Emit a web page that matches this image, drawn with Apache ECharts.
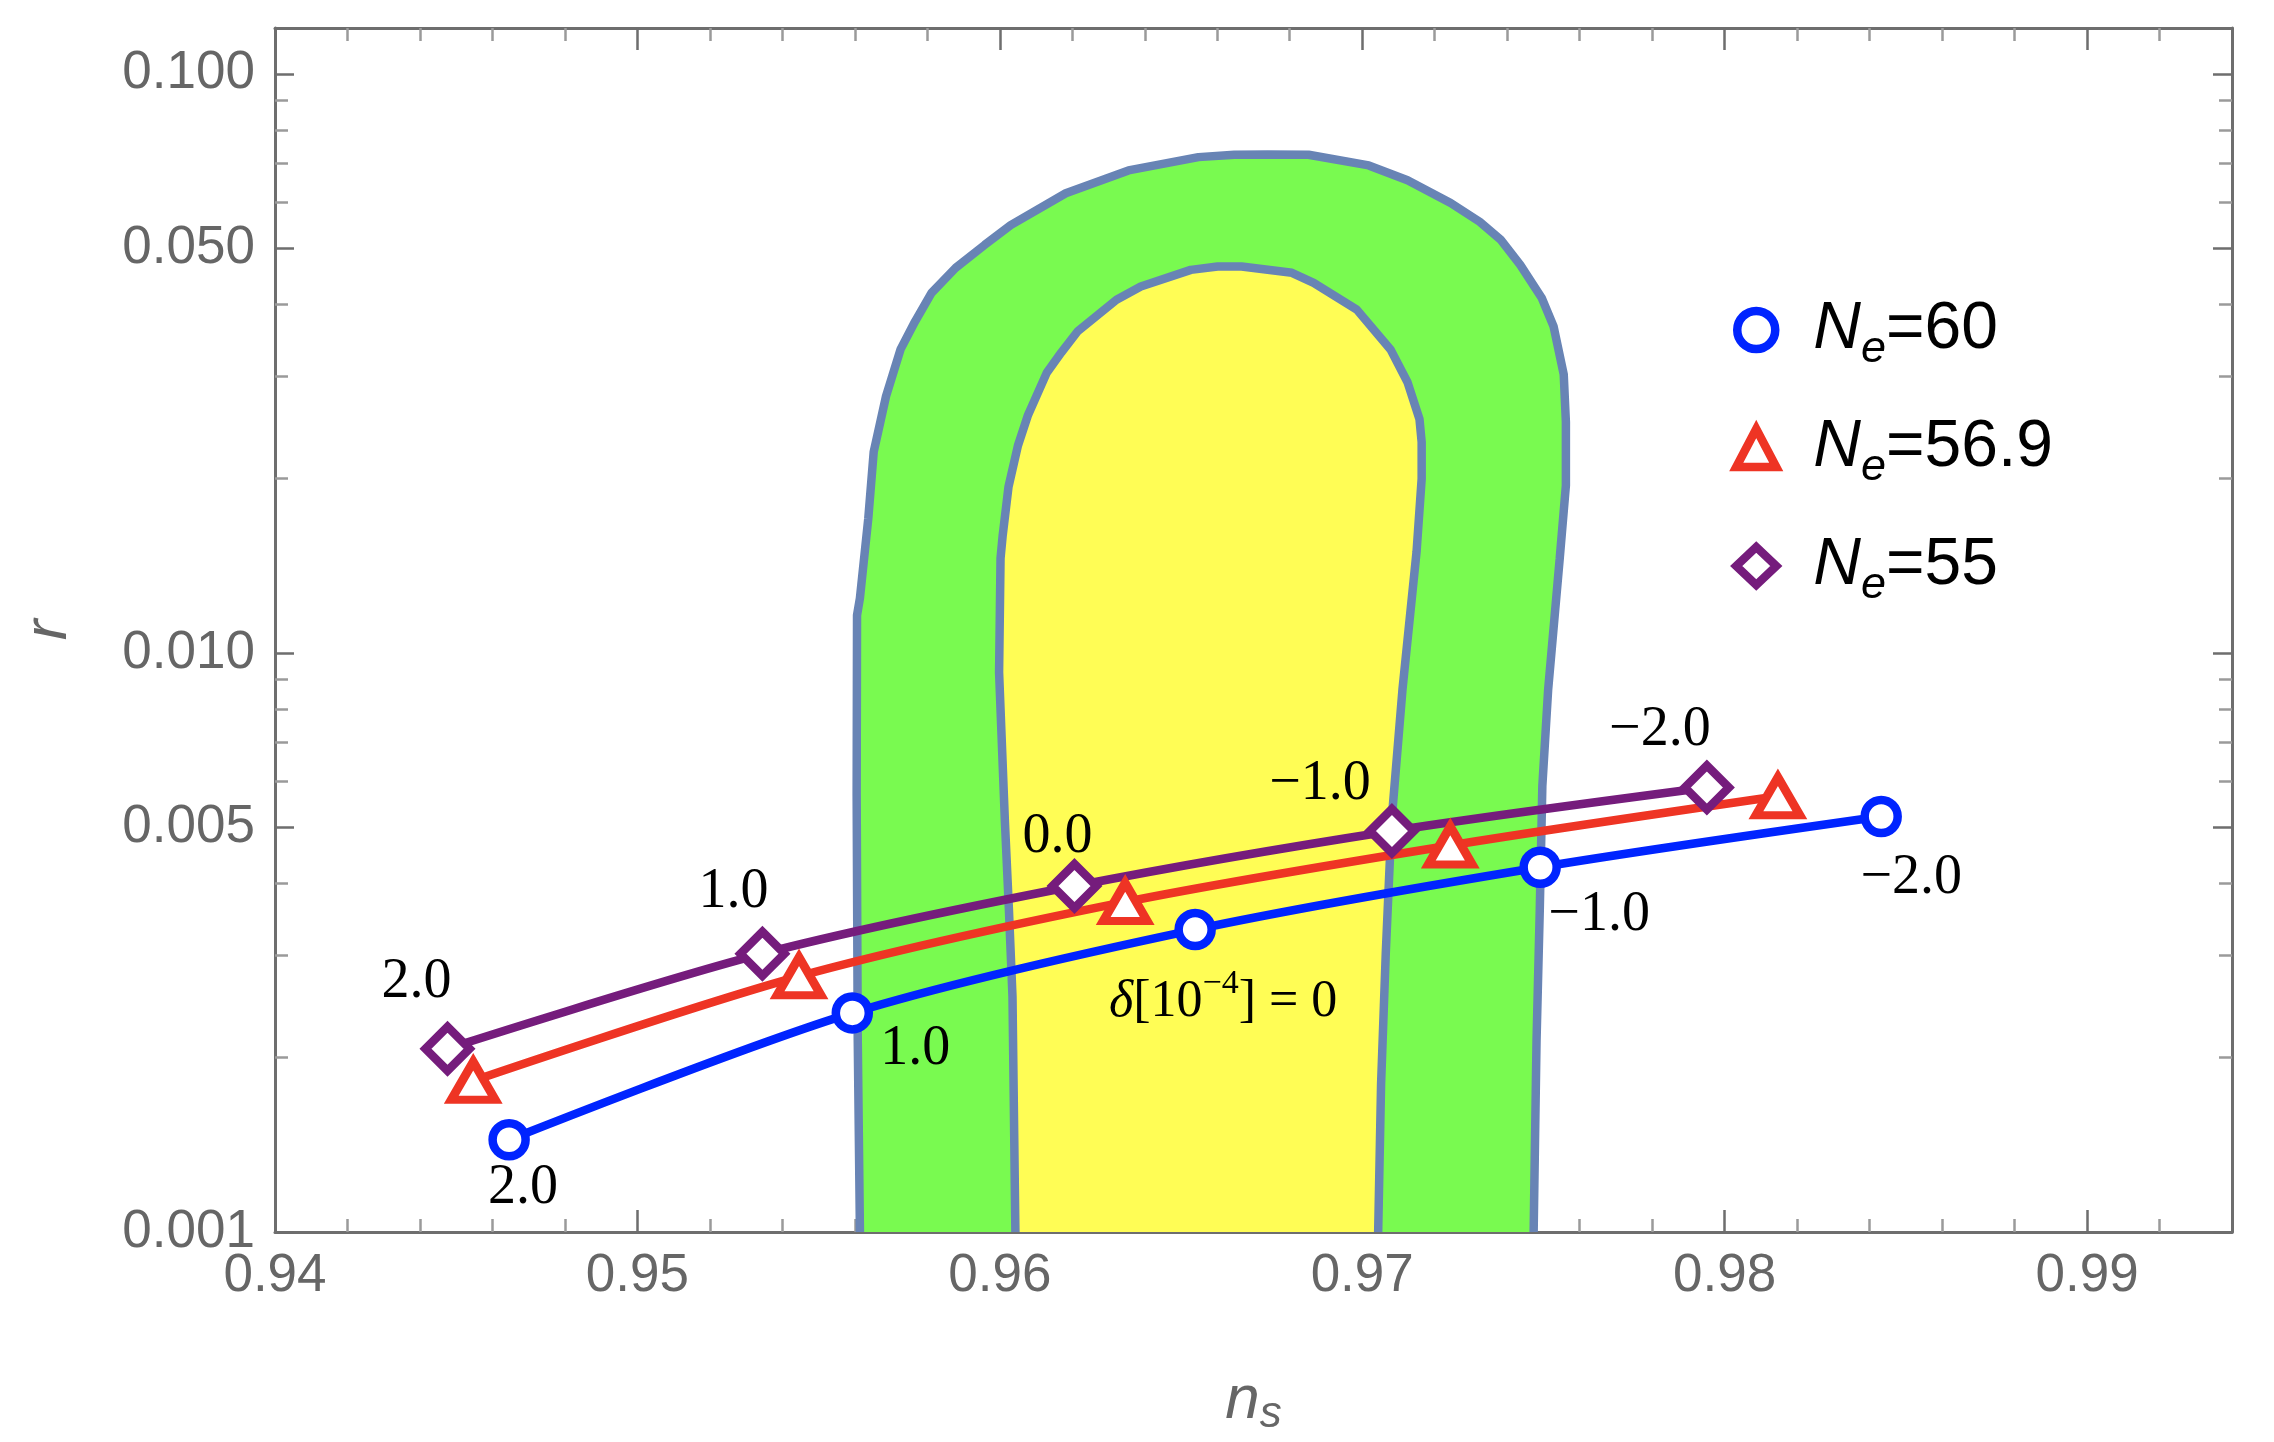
<!DOCTYPE html>
<html><head><meta charset="utf-8">
<script src="https://cdn.jsdelivr.net/npm/echarts@6/dist/echarts.min.js"></script>
<style>html,body{margin:0;padding:0;background:#fff}#c{width:2274px;height:1442px}</style>
</head><body><div id="c"></div>
<script>
// ---- data (n_s, r) ----
const nsBlue   = [0.94646, 0.95593, 0.96539, 0.97491, 0.98432];
const rBlue    = [0.001443, 0.002390, 0.003329, 0.004265, 0.005218];
const nsRed    = [0.94547, 0.95446, 0.96346, 0.97243, 0.98147];
const rRed     = [0.001825, 0.002764, 0.003715, 0.004651, 0.005655];
const nsPurple = [0.94476, 0.95345, 0.96206, 0.97082, 0.97951];
const rPurple  = [0.002073, 0.003024, 0.003958, 0.004926, 0.005855];
const seriesNames = ['Ne=60', 'Ne=56.9', 'Ne=55'];
const labelsBlue   = ['2.0', '1.0', '{i|δ}{t|[10}{s|−4}{t|] = 0}', '−1.0', '−2.0'];
const labelsPurple = ['2.0', '1.0', '0.0', '−1.0', '−2.0'];

// 2-sigma (outer) and 1-sigma (inner) contours
const outerNs = [0.95614,0.95608,0.95605,0.95606,0.95614,0.95637,0.95652,0.95686,0.95726,0.95766,0.95812,0.95878,0.95958,0.96030,0.96182,0.96355,0.96548,0.96647,0.96739,0.96852,0.97018,0.97125,0.97244,0.97324,0.97383,0.97436,0.97495,0.97528,0.97556,0.97562,0.97562,0.97545,0.97513,0.97497,0.97490,0.97481,0.97473];
const outerR  = [0.001,0.002146,0.005679,0.011619,0.012434,0.01706,0.02224,0.02775,0.03343,0.03735,0.04188,0.04624,0.05064,0.05481,0.06219,0.06812,0.07181,0.07249,0.07257,0.07249,0.06948,0.06549,0.05985,0.05553,0.05164,0.04679,0.04106,0.03664,0.03028,0.02504,0.01946,0.01456,0.008637,0.005884,0.003618,0.002141,0.001];
const innerNs = [0.96043,0.96035,0.96025,0.96014,0.95998,0.96002,0.96008,0.96024,0.96050,0.96077,0.96130,0.96170,0.96215,0.96322,0.96389,0.96527,0.96601,0.96667,0.96806,0.96866,0.96985,0.97078,0.97125,0.97158,0.97164,0.97164,0.97150,0.97111,0.97081,0.97065,0.97052,0.97044];
const innerR  = [0.001,0.002549,0.003618,0.005124,0.009259,0.01456,0.01597,0.01936,0.02280,0.02567,0.03051,0.03304,0.03593,0.04074,0.04294,0.04586,0.04647,0.04647,0.04533,0.04357,0.03916,0.03343,0.02934,0.02534,0.02313,0.01998,0.01497,0.008637,0.005124,0.003034,0.001799,0.001];

// ticks
const xMajorTicks = [0.94, 0.95, 0.96, 0.97, 0.98, 0.99];
const xMinorTicks = [0.942,0.944,0.946,0.948,0.952,0.954,0.956,0.958,0.962,0.964,0.966,0.968,0.972,0.974,0.976,0.978,0.982,0.984,0.986,0.988,0.992];
const yMajorTicks = [0.001, 0.005, 0.01, 0.05, 0.1];
const yMinorTicks = [0.002,0.003,0.004,0.006,0.007,0.008,0.009,0.02,0.03,0.04,0.06,0.07,0.08,0.09];
const xRange = [0.94, 0.994];
const yRange = [0.001, 0.12];

// ---- presentation ----
const labelOffsetsBlue   = [[14,49],[63,36],[28,73],[59,48],[30,62]];
const labelOffsetsPurple = [[-31,-66],[-29,-61],[-17,-49],[-72,-47],[-47,-57]];
const BLUE = '#0024ff', RED = '#ee3424', PURPLE = '#751c7c';
const GRAY = '#666666', FRAME = '#6e6e6e', MINOR = '#9a9a9a';
const SANS = 'Liberation Sans, Arial, sans-serif';
const SERIF = 'Liberation Serif, Times New Roman, serif';
const STROKE = 8.5;
const lg = Math.log10;

function pts(ns, r) { return ns.map((x, i) => [x, lg(r[i])]); }
function labelled(ns, r, labels, offsets) {
  return ns.map((x, i) => {
    const item = { value: [x, lg(r[i])] };
    if (labels) item.label = { show: true, formatter: labels[i], position: 'inside', offset: offsets[i] };
    return item;
  });
}

const yMin = lg(yRange[0]), yMax = lg(yRange[1]);
function xAxisDef(pos, major, withLabel) {
  return {
    type: 'value', position: pos, min: xRange[0], max: xRange[1], gridIndex: 0,
    axisLine: { show: major, onZero: false, lineStyle: { color: FRAME, width: 3 } },
    axisTick: { show: true, inside: true, length: major ? 22 : 13,
      customValues: major ? xMajorTicks : xMinorTicks,
      lineStyle: { color: major ? FRAME : MINOR, width: 2.5 } },
    axisLabel: withLabel ? { show: true, customValues: xMajorTicks, formatter: v => v.toFixed(2),
      color: GRAY, fontSize: 53, fontFamily: SANS, margin: 18 } : { show: false },
    splitLine: { show: false },
    name: withLabel ? '{n|n}{s|s}' : '', nameLocation: 'middle', nameGap: 133,
    nameTextStyle: { color: GRAY, rich: {
      n: { fontSize: 62, fontStyle: 'italic', fontFamily: SANS, color: GRAY, lineHeight: 72 },
      s: { fontSize: 44, fontStyle: 'italic', fontFamily: SANS, color: GRAY, lineHeight: 38, verticalAlign: 'bottom' } } }
  };
}
function yAxisDef(pos, major, withLabel) {
  return {
    type: 'value', position: pos, min: yMin, max: yMax, gridIndex: 0,
    axisLine: { show: major, onZero: false, lineStyle: { color: FRAME, width: 3 } },
    axisTick: { show: true, inside: true, length: major ? 19 : 13,
      customValues: (major ? yMajorTicks : yMinorTicks).map(lg),
      lineStyle: { color: major ? FRAME : MINOR, width: 2.5 } },
    axisLabel: withLabel ? { show: true, customValues: yMajorTicks.map(lg),
      formatter: v => Math.pow(10, v).toFixed(3), color: GRAY, fontSize: 53, fontFamily: SANS, margin: 20 } : { show: false },
    splitLine: { show: false },
    name: withLabel ? 'r' : '', nameLocation: 'middle', nameGap: 195,
    nameTextStyle: { color: GRAY, fontSize: 62, fontStyle: 'italic', fontFamily: SANS }
  };
}

function contour(name, ns, r, fill, z) {
  return { name, type: 'line', data: pts(ns, r), showSymbol: false, silent: true, z,
    lineStyle: { color: '#6884b5', width: STROKE }, areaStyle: { color: fill, opacity: 1, origin: 'start' },
    emphasis: { disabled: true } };
}
function curve(name, ns, r, color, symbol, size, labels, offsets) {
  return { name, type: 'line', data: labelled(ns, r, labels, offsets), smooth: 0.3, z: 5,
    symbol, symbolSize: size, showAllSymbol: true,
    lineStyle: { color, width: STROKE },
    itemStyle: { color: '#ffffff', borderColor: color, borderWidth: STROKE },
    label: { show: false, color: '#000', fontSize: 56, fontFamily: SERIF,
      rich: {
        i: { fontSize: 52, fontStyle: 'italic', fontFamily: SERIF, color: '#000', lineHeight: 70 },
        t: { fontSize: 52, fontFamily: SERIF, color: '#000', lineHeight: 70 },
        s: { fontSize: 34, fontFamily: SERIF, color: '#000', lineHeight: 30, verticalAlign: 'top' } } },
    emphasis: { disabled: true } };
}

const chart = echarts.init(document.getElementById('c'), null, { renderer: 'canvas' });
chart.setOption({
  animation: false,
  backgroundColor: '#ffffff',
  grid: { left: 275, right: 42, top: 28, bottom: 205, containLabel: false },
  xAxis: [ xAxisDef('bottom', true, true), xAxisDef('bottom', false, false),
           xAxisDef('top', true, false), xAxisDef('top', false, false) ],
  yAxis: [ yAxisDef('left', true, true), yAxisDef('left', false, false),
           yAxisDef('right', true, false), yAxisDef('right', false, false) ],
  legend: {
    orient: 'vertical', left: 1727, top: 292, itemWidth: 40, itemHeight: 38, itemGap: 43,
    selectedMode: false,
    data: [
      { name: seriesNames[0], icon: 'circle', itemStyle: { color: '#fff', borderColor: BLUE, borderWidth: STROKE } },
      { name: seriesNames[1], icon: 'triangle', itemStyle: { color: '#fff', borderColor: RED, borderWidth: STROKE } },
      { name: seriesNames[2], icon: 'diamond', itemStyle: { color: '#fff', borderColor: PURPLE, borderWidth: STROKE } }
    ],
    formatter: n => '{sp| }{n|N}{e|e}{t|=' + n.slice(3) + '}',
    textStyle: { rich: {
      sp: { width: 32, fontSize: 20, lineHeight: 84 },
      n: { fontSize: 66, fontStyle: 'italic', fontFamily: SANS, color: '#000', lineHeight: 84 },
      e: { fontSize: 45, fontStyle: 'italic', fontFamily: SANS, color: '#000', lineHeight: 40, verticalAlign: 'bottom' },
      t: { fontSize: 66, fontFamily: SANS, color: '#000', lineHeight: 84 } } }
  },
  series: [
    contour('outer', outerNs, outerR, '#79fa50', 1),
    contour('inner', innerNs, innerR, '#fffd55', 2),
    curve(seriesNames[0], nsBlue, rBlue, BLUE, 'circle', 33, labelsBlue, labelOffsetsBlue),
    curve(seriesNames[1], nsRed, rRed, RED, 'triangle', [44, 38], null, null),
    curve(seriesNames[2], nsPurple, rPurple, PURPLE, 'diamond', 44, labelsPurple, labelOffsetsPurple)
  ]
});
</script></body></html>
